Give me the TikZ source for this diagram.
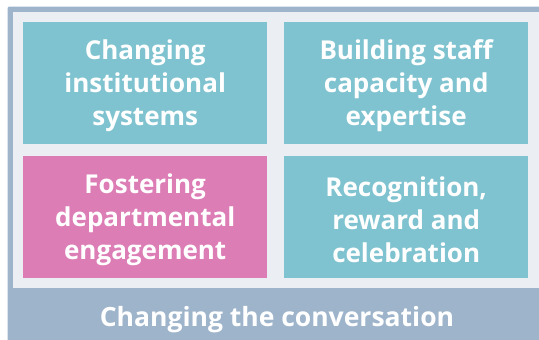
\documentclass[tikz,border=0pt]{standalone}
\usepackage{fontspec}
\setmainfont{Open Sans}
\definecolor{frameblue}{HTML}{9DB4CB}
\definecolor{panelgrey}{HTML}{EBEFF3}
\definecolor{tealbox}{HTML}{7FC3D0}
\definecolor{pinkbox}{HTML}{DC7DB5}
\begin{document}
\begin{tikzpicture}[x=1pt,y=-1pt,
  tile/.style={minimum width=244pt, minimum height=122pt, inner sep=0pt, anchor=north west},
  tiletext/.style={inner sep=0pt, align=center, text=white,
    font=\bfseries\fontsize{26}{33}\selectfont},
  bandtext/.style={text=white, inner sep=0pt, font=\bfseries\fontsize{26.5}{33}\selectfont}]
  \useasboundingbox (0,0) rectangle (539,340);
  % outer frame and light panel
  \fill[frameblue, rounded corners=2pt] (7.5,6.5) rectangle (545,346);
  \fill[panelgrey] (12.7,11.7) rectangle (538.5,287.7);
  % the four tiles
  \node[tile, fill=tealbox] (sys) at (23,22) {};
  \node[tile, fill=tealbox] (staff) at (284,22) {};
  \node[tile, fill=pinkbox] (dept) at (23,156) {};
  \node[tile, fill=tealbox] (reward) at (284,156) {};
  % tile captions, set a little below centre
  \node[tiletext] (sysT) at ([yshift=-2.5pt]sys.center) {Changing\\institutional\\systems};
  \node[tiletext] (staffT) at ([yshift=-2.5pt]staff.center) {Building staff\\capacity and\\expertise};
  \node[tiletext] (deptT) at ([yshift=-2.5pt]dept.center) {Fostering\\departmental\\engagement};
  \node[tiletext] (rewardT) at ([yshift=-2.5pt]reward.center) {Recognition,\\reward and\\celebration};
  % caption along the bottom band
  \node[bandtext, anchor=base] (conv) at (277,326) {Changing the conversation};
\end{tikzpicture}
\end{document}
